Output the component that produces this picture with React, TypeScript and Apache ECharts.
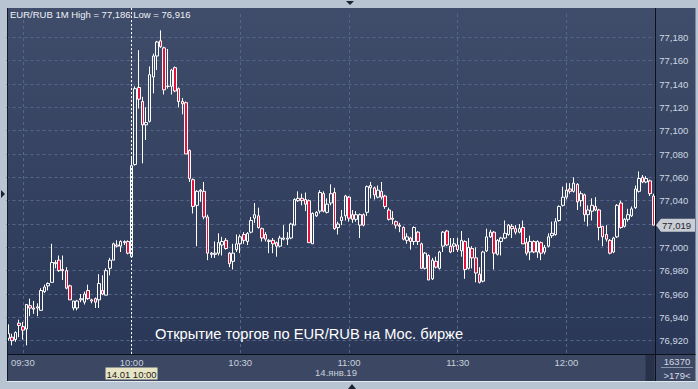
import React, { useEffect, useRef } from 'react';
import * as echarts from 'echarts';

// 1-minute EUR/RUB candles, 14 Jan 2019, starting 09:26
const startMinute = 9 * 60 + 26;
const opens = [
  76.922, 76.923, 76.921, 76.935, 76.932, 76.930, 76.950, 76.948, 76.948, 76.946,
  76.962, 76.967, 76.970, 76.986, 76.989, 76.981, 76.980, 76.967, 76.948, 76.948,
  76.955, 76.953, 76.963, 76.955, 76.956, 76.955, 76.963, 76.959, 76.982, 76.989,
  77.001, 77.001, 77.004, 77.005, 76.992, 77.071, 77.137, 77.125, 77.105, 77.108,
  77.146, 77.164, 77.177, 77.171, 77.138, 77.138, 77.154, 77.136, 77.125, 77.124,
  77.083, 77.058, 77.036, 77.048, 77.048, 77.026, 76.995, 76.994, 76.995, 77.002,
  77.006, 76.995, 76.988, 76.998, 77.003, 77.011, 77.005, 77.013, 77.025, 77.027,
  77.016, 77.011, 77.006, 77.006, 77.004, 77.001, 77.007, 77.007, 77.008, 77.019,
  77.040, 77.042, 77.041, 77.040, 77.003, 77.027, 77.031, 77.046, 77.030, 77.038,
  77.047, 77.017, 77.023, 77.027, 77.043, 77.028, 77.024, 77.019, 77.028, 77.030,
  77.051, 77.051, 77.043, 77.048, 77.044, 77.032, 77.025, 77.022, 77.019, 77.017,
  77.006, 77.008, 77.005, 77.013, 77.003, 76.982, 76.993, 76.973, 76.988, 76.982,
  77.001, 77.014, 77.001, 77.001, 77.002, 76.997, 77.005, 76.982, 76.999, 76.991,
  76.977, 76.971, 76.997, 77.009, 77.013, 76.994, 77.005, 77.008, 77.011, 77.018,
  77.016, 77.013, 77.017, 77.004, 76.996, 77.005, 76.996, 77.004, 76.996, 77.001,
  77.010, 77.011, 77.023, 77.036, 77.043, 77.050, 77.048, 77.054, 77.040, 77.045,
  77.028, 77.031, 77.035, 77.032, 77.018, 77.011, 77.006, 76.996, 77.009, 77.038,
  77.018, 77.024, 77.027, 77.034, 77.048, 77.060, 77.056, 77.057, 77.044,
];
const closes = [
  76.926, 76.920, 76.927, 76.933, 76.929, 76.951, 76.948, 76.947, 76.949, 76.963,
  76.966, 76.969, 76.987, 76.987, 76.980, 76.980, 76.965, 76.955, 76.954, 76.954,
  76.956, 76.960, 76.956, 76.954, 76.953, 76.969, 76.960, 76.980, 76.989, 77.003,
  77.002, 77.005, 77.005, 76.995, 77.070, 77.136, 77.127, 77.105, 77.107, 77.148,
  77.164, 77.176, 77.172, 77.135, 77.138, 77.152, 77.134, 77.125, 77.123, 77.080,
  77.059, 77.035, 77.048, 77.049, 77.026, 76.995, 76.994, 76.995, 77.004, 77.005,
  76.999, 76.986, 76.995, 77.003, 77.009, 77.006, 77.012, 77.023, 77.028, 77.017,
  77.008, 77.007, 77.005, 77.003, 77.001, 77.008, 77.008, 77.008, 77.020, 77.041,
  77.042, 77.040, 77.037, 77.004, 77.029, 77.030, 77.047, 77.031, 77.037, 77.046,
  77.016, 77.020, 77.026, 77.044, 77.025, 77.024, 77.028, 77.028, 77.019, 77.052,
  77.053, 77.045, 77.049, 77.043, 77.035, 77.024, 77.024, 77.019, 77.018, 77.007,
  77.009, 77.005, 77.017, 77.005, 76.982, 76.995, 76.972, 76.989, 76.983, 76.996,
  77.013, 77.002, 76.996, 77.003, 76.998, 77.006, 76.981, 77.000, 76.991, 76.978,
  76.970, 76.996, 77.009, 77.013, 76.995, 77.006, 77.008, 77.012, 77.019, 77.016,
  77.013, 77.016, 77.003, 76.995, 77.005, 76.996, 77.005, 76.995, 77.000, 77.009,
  77.012, 77.022, 77.035, 77.043, 77.049, 77.048, 77.055, 77.039, 77.046, 77.028,
  77.032, 77.036, 77.032, 77.017, 77.009, 77.007, 76.995, 77.008, 77.036, 77.017,
  77.024, 77.028, 77.033, 77.050, 77.059, 77.056, 77.059, 77.046, 77.019,
];
const lows = [
  76.920, 76.916, 76.919, 76.923, 76.921, 76.916, 76.941, 76.943, 76.941, 76.946,
  76.961, 76.963, 76.970, 76.982, 76.979, 76.972, 76.964, 76.955, 76.946, 76.946,
  76.953, 76.951, 76.955, 76.952, 76.948, 76.948, 76.959, 76.959, 76.976, 76.989,
  77.000, 76.996, 77.002, 76.994, 76.991, 77.070, 77.119, 77.072, 77.092, 77.107,
  77.132, 77.152, 77.171, 77.131, 77.136, 77.131, 77.133, 77.120, 77.114, 77.080,
  77.056, 77.029, 77.001, 77.039, 77.024, 76.989, 76.991, 76.991, 76.993, 76.993,
  76.998, 76.983, 76.981, 76.996, 76.995, 77.003, 77.002, 77.012, 77.021, 77.016,
  77.005, 77.005, 76.995, 76.995, 76.992, 77.000, 77.006, 77.002, 77.007, 77.019,
  77.039, 77.036, 77.031, 77.004, 77.003, 77.026, 77.029, 77.030, 77.029, 77.036,
  77.015, 77.011, 77.019, 77.023, 77.022, 77.021, 77.022, 77.008, 77.018, 77.027,
  77.042, 77.041, 77.042, 77.041, 77.033, 77.023, 77.020, 77.016, 77.013, 77.006,
  77.003, 76.998, 77.002, 77.002, 76.982, 76.981, 76.972, 76.972, 76.982, 76.981,
  76.996, 77.001, 76.995, 76.996, 76.996, 76.992, 76.973, 76.981, 76.982, 76.970,
  76.969, 76.970, 76.996, 77.008, 76.981, 76.993, 76.993, 77.007, 77.010, 77.008,
  77.011, 77.012, 77.003, 76.993, 76.989, 76.995, 76.991, 76.989, 76.994, 77.000,
  77.008, 77.010, 77.022, 77.035, 77.041, 77.046, 77.047, 77.032, 77.035, 77.022,
  77.018, 77.023, 77.031, 77.006, 77.001, 77.005, 76.994, 76.995, 77.008, 77.016,
  77.017, 77.022, 77.026, 77.033, 77.047, 77.055, 77.055, 77.044, 77.019,
];
const highs = [
  76.934, 76.926, 76.928, 76.938, 76.936, 76.951, 76.956, 76.954, 76.952, 76.965,
  76.968, 76.970, 77.003, 76.989, 76.993, 76.993, 76.983, 76.968, 76.954, 76.955,
  76.960, 76.962, 76.968, 76.956, 76.957, 76.977, 76.976, 76.982, 76.991, 77.004,
  77.006, 77.006, 77.006, 77.006, 77.078, 77.138, 77.169, 77.129, 77.120, 77.155,
  77.166, 77.177, 77.186, 77.172, 77.170, 77.153, 77.155, 77.137, 77.128, 77.125,
  77.084, 77.059, 77.049, 77.050, 77.056, 77.028, 76.996, 77.005, 77.012, 77.009,
  77.008, 76.996, 77.003, 77.011, 77.011, 77.013, 77.013, 77.026, 77.038, 77.034,
  77.017, 77.013, 77.007, 77.008, 77.005, 77.010, 77.019, 77.013, 77.021, 77.042,
  77.048, 77.046, 77.047, 77.041, 77.030, 77.031, 77.049, 77.048, 77.042, 77.054,
  77.051, 77.022, 77.032, 77.045, 77.044, 77.032, 77.031, 77.029, 77.029, 77.053,
  77.056, 77.052, 77.053, 77.056, 77.045, 77.034, 77.031, 77.023, 77.021, 77.018,
  77.012, 77.009, 77.018, 77.014, 77.004, 76.996, 76.994, 76.991, 76.992, 76.997,
  77.014, 77.015, 77.008, 77.008, 77.008, 77.014, 77.006, 77.008, 77.001, 77.000,
  76.983, 76.997, 77.016, 77.015, 77.014, 77.007, 77.009, 77.023, 77.020, 77.020,
  77.019, 77.020, 77.023, 77.008, 77.010, 77.006, 77.006, 77.005, 77.002, 77.012,
  77.022, 77.025, 77.036, 77.052, 77.055, 77.055, 77.060, 77.055, 77.048, 77.046,
  77.036, 77.042, 77.043, 77.033, 77.018, 77.019, 77.007, 77.009, 77.037, 77.040,
  77.025, 77.033, 77.035, 77.053, 77.065, 77.062, 77.061, 77.058, 77.046,
];

const categories = opens.map((_, i) => {
  const m = startMinute + i;
  return String(Math.floor(m / 60)).padStart(2, '0') + ':' + String(m % 60).padStart(2, '0');
});

const crosshairTime = '10:00';
const crosshairLabel = '14.01 10:00';
const dateLabel = '14.янв.19';
const annotation = 'Открытие торгов по EUR/RUB на Мос. бирже';
const volumeLabel = '16370';
const barsLabel = '>179<';

const FONT = '"Liberation Sans", Arial, sans-serif';
const fmt = (v: number) => v.toFixed(3).replace('.', ',');

export default function App() {
  const ref = useRef<HTMLDivElement>(null);
  useEffect(() => {
    const chart = echarts.init(ref.current!, null, { renderer: 'svg' });
    const data = opens.map((o, i) => [o, closes[i], lows[i], highs[i]]);
    const isMark = (_i: number, v: string) => v.endsWith(':00') || v.endsWith(':30');
    const gridLine = { color: '#56668a', type: [3, 3] as any, width: 1 };
    const lastClose = closes[closes.length - 1];

    chart.setOption({
      animation: false,
      backgroundColor: '#b9c4d3',
      grid: { left: 6.5, width: 648.7, top: 14, height: 350 },
      xAxis: [
        {
          type: 'category', data: categories, position: 'top',
          axisLine: { show: false }, axisTick: { show: false }, axisLabel: { show: false },
          splitLine: { show: true, interval: isMark, alignWithLabel: true, lineStyle: gridLine },
        },
        {
          type: 'category', data: categories, position: 'bottom', offset: -10, z: 150,
          axisLine: { show: false }, axisTick: { show: false }, splitLine: { show: false },
          axisLabel: { interval: isMark, color: '#c8d0dc', fontSize: 9.5, fontFamily: FONT, margin: 3 },
        },
      ],
      yAxis: {
        type: 'value', position: 'right', min: 76.9, max: 77.2, interval: 0.02,
        axisLine: { show: false }, axisTick: { show: false },
        axisLabel: {
          showMinLabel: false, showMaxLabel: false,
          // the label hidden under the last-price tag is not drawn
          formatter: (v: number) => (Math.abs(v - lastClose) < 0.008 ? '' : fmt(v)),
          color: '#d0d7e3', fontSize: 9.5, fontFamily: FONT, margin: 4,
        },
        splitLine: { show: true, showMinLine: false, showMaxLine: false, lineStyle: gridLine },
      },
      series: [
        {
          type: 'candlestick', data, barWidth: 3, xAxisIndex: 0,
          itemStyle: {
            color: 'rgba(0,0,0,0)', color0: '#e3123c',
            borderColor: '#ffffff', borderColor0: '#ffffff', borderWidth: 1,
          },
        },
      ],
    });

    const xc = chart.convertToPixel({ xAxisIndex: 0 }, categories.indexOf(crosshairTime)) as number;
    const yp = chart.convertToPixel({ yAxisIndex: 0 }, lastClose) as number;
    const hi = Math.max(...highs);
    const lo = Math.min(...lows);

    const txt = (x: number, y: number, text: string, fill: string, size: number, align = 'left', z = 120, family = FONT) => ({
      type: 'text', x, y, z, silent: true,
      style: {
        text, fill, fontSize: size, fontFamily: family,
        align, textAlign: align, verticalAlign: 'middle', textVerticalAlign: 'middle',
      },
    });

    chart.setOption({
      graphic: [
        {
          type: 'rect', z: -100, silent: true,
          shape: { x: 7.5, y: 8, width: 688, height: 346 },
          style: {
            fill: new echarts.graphic.LinearGradient(0, 0, 0, 1, [
              { offset: 0, color: '#3f4d6a' }, { offset: 1, color: '#2a3757' },
            ]),
          },
        },
        { type: 'rect', z: 100, silent: true, shape: { x: 7.5, y: 354, width: 688, height: 27 }, style: { fill: '#3c4863' } },
        { type: 'rect', z: 101, silent: true, shape: { x: 645.5, y: 355, width: 9, height: 26 }, style: { fill: '#27314a' } },
        { type: 'line', z: 102, silent: true, shape: { x1: 7.5, y1: 354.5, x2: 695.5, y2: 354.5 }, style: { stroke: '#0d1119', lineWidth: 1 } },
        { type: 'line', z: 102, silent: true, shape: { x1: 655.5, y1: 8, x2: 655.5, y2: 381 }, style: { stroke: '#0d1119', lineWidth: 1 } },
        { type: 'line', z: 102, silent: true, shape: { x1: 7.5, y1: 8, x2: 7.5, y2: 381 }, style: { stroke: '#141a26', lineWidth: 1 } },
        { type: 'line', z: 102, silent: true, shape: { x1: 7.5, y1: 381.5, x2: 695.5, y2: 381.5 }, style: { stroke: '#e4e9f0', lineWidth: 1 } },
        { type: 'line', z: 103, silent: true, shape: { x1: 661, y1: 367.5, x2: 693, y2: 367.5 }, style: { stroke: '#8896ad', lineWidth: 1 } },
        txt(677, 361, volumeLabel, '#d4dae6', 9.5, 'center'),
        txt(677, 375.5, barsLabel, '#d4dae6', 9.5, 'center'),
        // crosshair
        { type: 'line', z: 50, silent: true, shape: { x1: xc, y1: 8, x2: xc, y2: 354 }, style: { stroke: '#ffffff', lineWidth: 1, lineDash: [2, 2] } },
        { type: 'rect', z: 119, silent: true, shape: { x: xc - 26, y: 367.5, width: 52, height: 12 }, style: { fill: '#e8e5c6' } },
        txt(xc, 374, crosshairLabel, '#1b1b1b', 9.5, 'center'),
        txt(336, 372.5, dateLabel, '#c8d0dc', 9.5, 'center'),
        // last price tag
        {
          type: 'polygon', z: 119, silent: true,
          shape: { points: [[656, yp], [661, yp - 6.5], [695, yp - 6.5], [695, yp + 6.5], [661, yp + 6.5]] },
          style: { fill: '#c9cdd4' },
        },
        txt(662, yp + 0.5, fmt(lastClose), '#1e2430', 9.5, 'left'),
        // title and annotation
        txt(10, 14.5, `EUR/RUB 1M High = ${fmt(hi)} Low = ${fmt(lo)}`, '#eef1f6', 9.5, 'left'),
        txt(155, 334, annotation, '#ffffff', 14.7, 'left'),
        // frame arrows
        { type: 'polygon', z: 130, silent: true, shape: { points: [[346, 1], [354, 1], [350, 5]] }, style: { fill: '#1b2232' } },
        { type: 'polygon', z: 130, silent: true, shape: { points: [[1, 190], [1, 198], [5, 194]] }, style: { fill: '#1b2232' } },
        { type: 'polygon', z: 130, silent: true, shape: { points: [[348, 389], [356, 389], [352, 384]] }, style: { fill: '#1b2232' } },
      ],
    });

    return () => chart.dispose();
  }, []);

  return <div ref={ref} style={{ position: 'absolute', left: 0, top: 0, width: 698, height: 389 }} />;
}
